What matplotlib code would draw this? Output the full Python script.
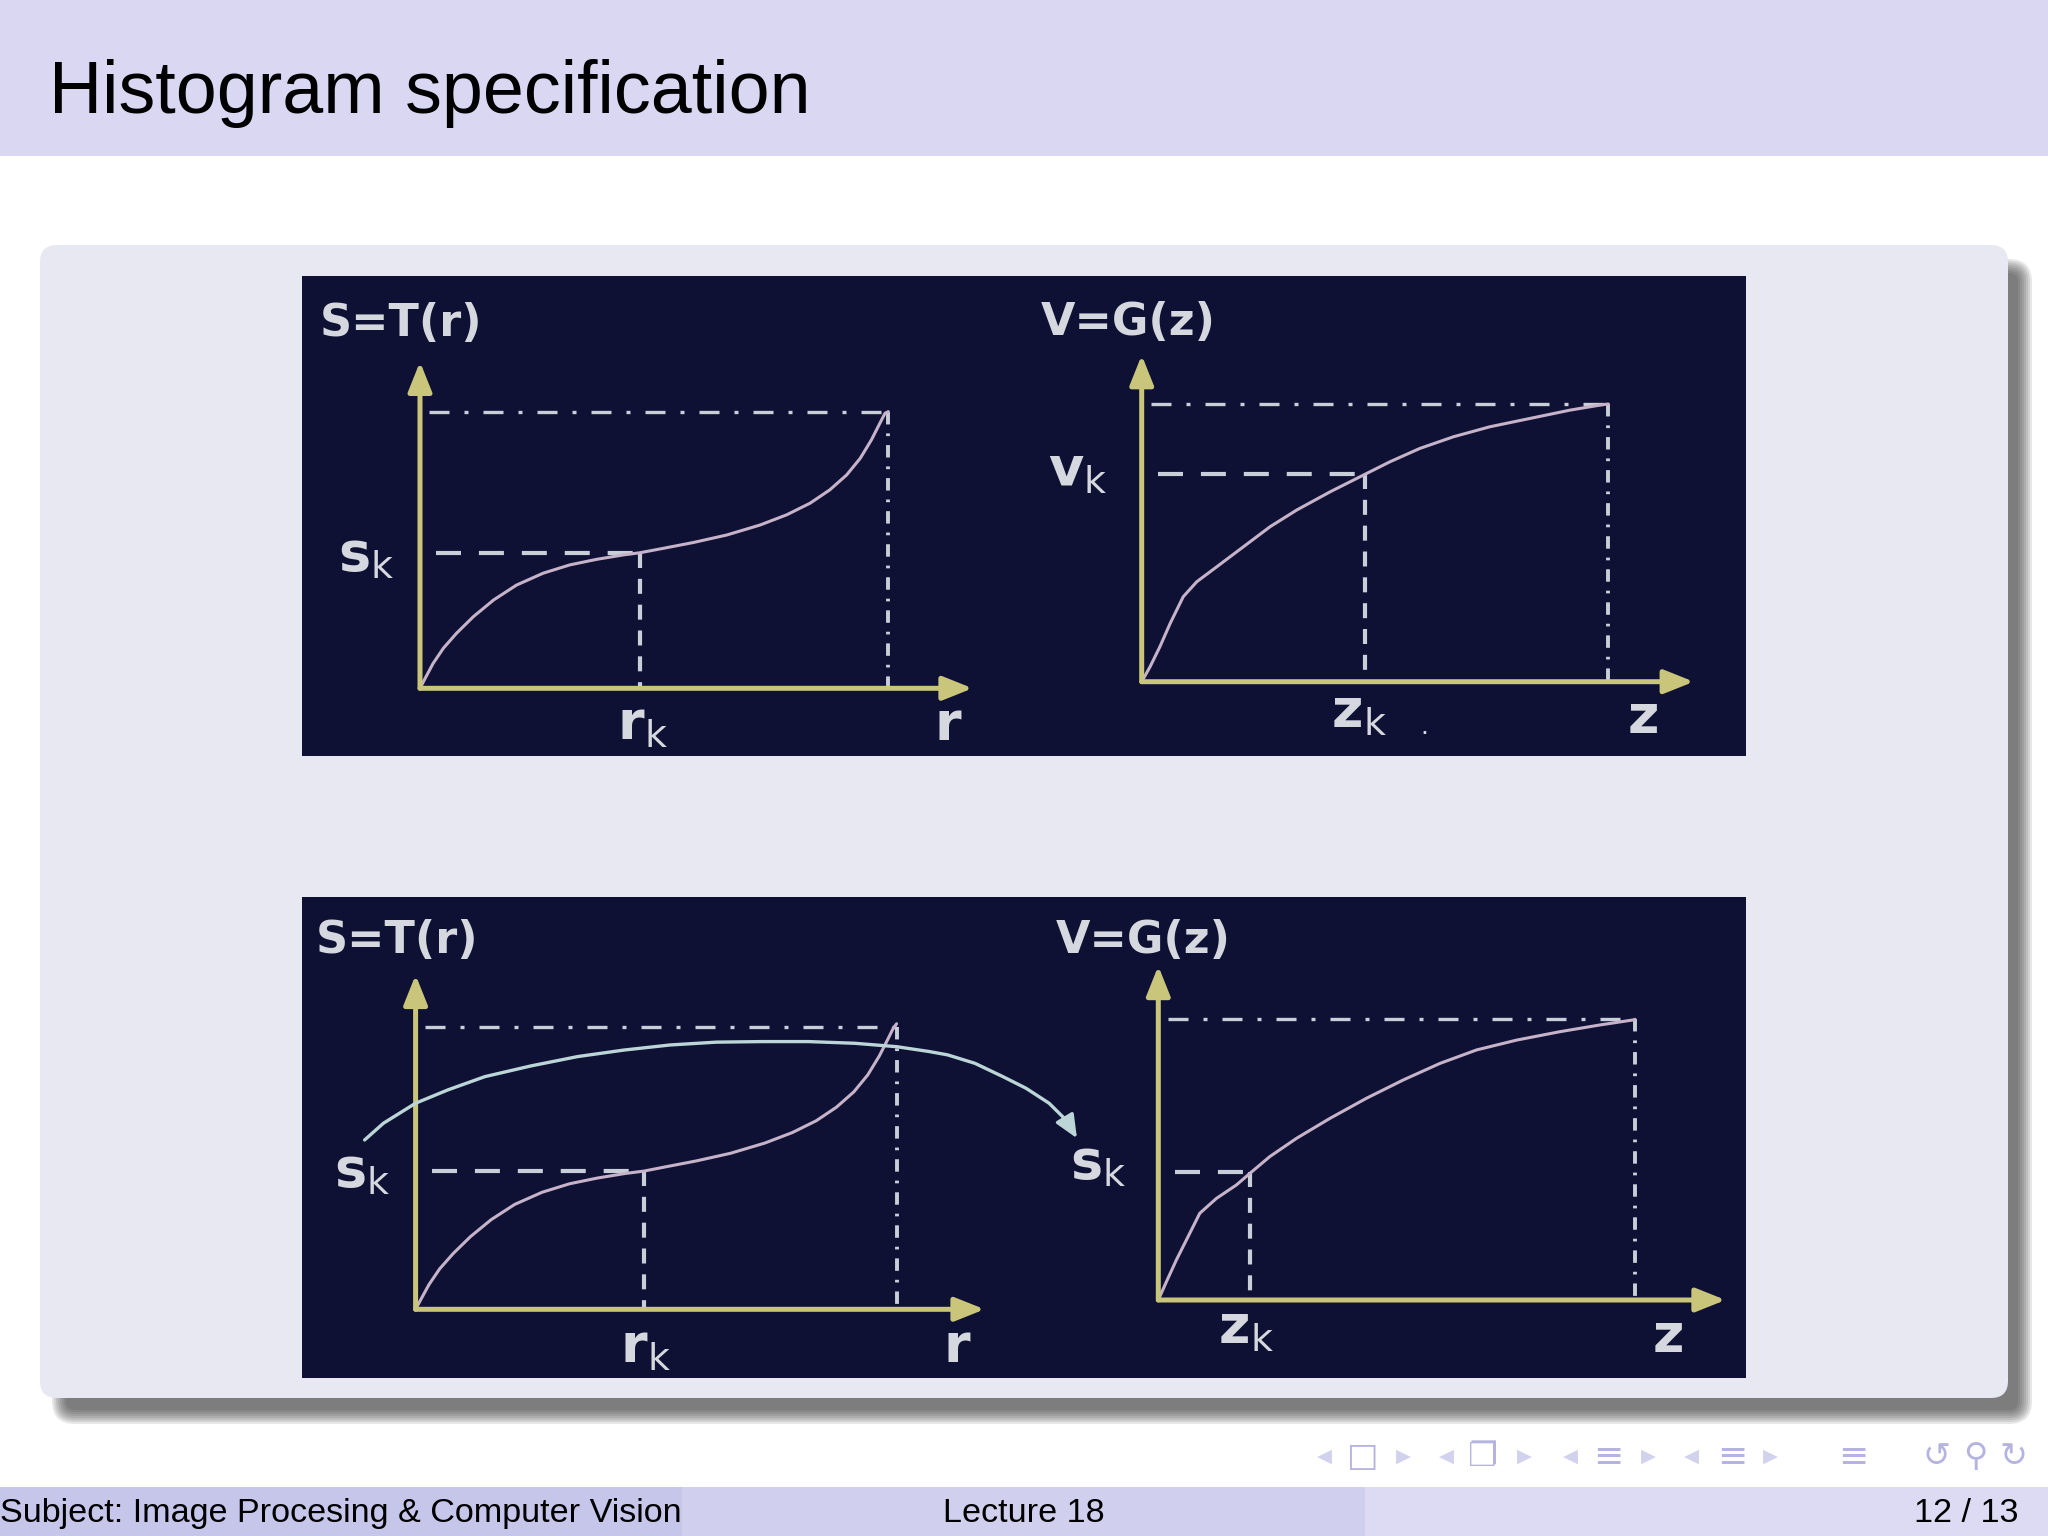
import matplotlib
matplotlib.use("Agg")
import matplotlib.pyplot as plt
from matplotlib.patches import Rectangle, FancyBboxPatch

plt.rcParams['mathtext.fontset'] = 'custom'
plt.rcParams['mathtext.bf'] = 'DejaVu Sans:bold'
plt.rcParams['mathtext.rm'] = 'DejaVu Sans'

W, H = 2048, 1536

# slide texts
title = "Histogram specification"
footer_left = "Subject: Image Procesing & Computer Vision"
footer_mid = "Lecture 18"
footer_right = "12 / 13"

# curves, in graph units (1.0 = the dotted limit lines)
top_r = [0, 0.011, 0.028, 0.05, 0.078, 0.114, 0.157, 0.206, 0.263, 0.32, 0.377, 0.434, 0.47,
         0.52, 0.584, 0.655, 0.726, 0.783, 0.833, 0.875, 0.911, 0.94, 0.964, 0.982, 0.993, 1.0]
top_s = [0, 0.036, 0.09, 0.145, 0.199, 0.259, 0.319, 0.373, 0.416, 0.446, 0.466, 0.482, 0.49,
         0.506, 0.527, 0.554, 0.59, 0.627, 0.669, 0.717, 0.771, 0.831, 0.898, 0.958, 0.994, 1.0]
top_z = [0, 0.018, 0.039, 0.061, 0.089, 0.118, 0.161, 0.218, 0.275, 0.332, 0.404, 0.475,
         0.532, 0.596, 0.668, 0.746, 0.832, 0.918, 0.989, 1.0]
top_v = [0, 0.054, 0.126, 0.21, 0.306, 0.36, 0.414, 0.486, 0.558, 0.618, 0.684, 0.744,
         0.792, 0.84, 0.882, 0.918, 0.948, 0.978, 0.998, 1.0]
bot_r = [0, 0.011, 0.028, 0.05, 0.078, 0.114, 0.157, 0.206, 0.263, 0.32, 0.377, 0.434, 0.475,
         0.52, 0.584, 0.655, 0.726, 0.783, 0.833, 0.875, 0.911, 0.94, 0.964, 0.982, 0.993, 1.0]
bot_s = [0, 0.035, 0.088, 0.143, 0.197, 0.257, 0.317, 0.371, 0.414, 0.444, 0.464, 0.48, 0.489,
         0.504, 0.525, 0.552, 0.588, 0.625, 0.667, 0.715, 0.769, 0.829, 0.896, 0.956, 0.994, 1.01]
bot_z = [0, 0.017, 0.038, 0.059, 0.087, 0.122, 0.164, 0.192, 0.234, 0.29, 0.36, 0.437,
         0.514, 0.591, 0.668, 0.752, 0.843, 0.927, 0.997, 1.0]
bot_v = [0, 0.065, 0.143, 0.214, 0.309, 0.362, 0.41, 0.451, 0.511, 0.576, 0.647, 0.719,
         0.784, 0.843, 0.891, 0.926, 0.956, 0.98, 0.998, 1.0]
# the mapping arrow in the lower left graph
map_x = [-0.106, -0.067, 0, 0.067, 0.144, 0.24, 0.337, 0.433, 0.529, 0.625, 0.721, 0.817,
         0.913, 1.0, 1.067, 1.106, 1.163, 1.221, 1.269, 1.317, 1.352, 1.375]
map_y = [0.599, 0.658, 0.729, 0.776, 0.823, 0.861, 0.894, 0.917, 0.935, 0.945, 0.947, 0.947,
         0.941, 0.929, 0.912, 0.9, 0.87, 0.823, 0.782, 0.729, 0.67, 0.605]

# marked points (x_k, y_k) per graph
top_left_k = (0.47, 0.488)
top_right_k = (0.479, 0.747)
bot_left_k = (0.475, 0.489)
bot_right_k = (0.192, 0.455)

NAVY = '#0e1134'
AXIS = '#c9c57a'
CURVE = '#c6b3c9'
DASH = '#c9cfd8'
ARROW = '#bcd6d8'
LABEL = '#d5d8de'

fig = plt.figure(figsize=(W / 100, H / 100), dpi=100)
fig.patch.set_facecolor('white')

bg = fig.add_axes([0, 0, 1, 1])
bg.set_xlim(0, W)
bg.set_ylim(H, 0)
bg.axis('off')

# header
bg.add_patch(Rectangle((0, 0), W, 156, color='#d9d7f1', lw=0))
bg.text(49, 113, title, fontsize=53, family='Liberation Sans', color='black', va='baseline')

# content box with a soft shadow offset to the lower right
for i in range(8):
    p = 17 + 2 * (i - 4)
    bg.add_patch(FancyBboxPatch((40 + 17 + 18, 245 + 17 + 20), 1968 - 34, 1153 - 34,
                                boxstyle='round,pad=%d,rounding_size=%d' % (p, max(p, 4)),
                                fc='#3a3a3a', ec='none', alpha=0.12))
bg.add_patch(FancyBboxPatch((40 + 17, 245 + 17), 1968 - 34, 1153 - 34,
                            boxstyle='round,pad=17,rounding_size=17',
                            fc='#e8e8f2', ec='none'))

# dark picture panels
bg.add_patch(Rectangle((302, 276), 1444, 480, color=NAVY, lw=0))
bg.add_patch(Rectangle((302, 897), 1444, 481, color=NAVY, lw=0))

# footer
bg.add_patch(Rectangle((0, 1487), 682, 49, color='#c6c5ea', lw=0))
bg.add_patch(Rectangle((682, 1487), 683, 49, color='#d0cfee', lw=0))
bg.add_patch(Rectangle((1365, 1487), 683, 49, color='#dcdbf3', lw=0))
bg.text(0, 1522, footer_left, fontsize=24.6, family='Liberation Sans', va='baseline')
bg.text(1024, 1522, footer_mid, fontsize=24.6, family='Liberation Sans', va='baseline', ha='center')
bg.text(2018, 1522, footer_right, fontsize=24.6, family='Liberation Sans', va='baseline', ha='right')

# beamer navigation symbols
nav = [(1324, '◀', 14), (1363, '□', 24), (1403, '▶', 14),
       (1446, '◀', 14), (1483, '❐', 24), (1524, '▶', 14),
       (1570, '◀', 14), (1608, '≡', 26), (1648, '▶', 14),
       (1691, '◀', 14), (1732, '≡', 26), (1770, '▶', 14),
       (1853, '≡', 26), (1937, '↺', 24), (1975, '⚲', 24), (2013, '↻', 24)]
for x, ch, fs in nav:
    col = '#d3d2ee' if ch in '◀▶' else '#b5b3df'
    bg.text(x, 1456, ch, fontsize=fs, color=col, ha='center', va='center', family='DejaVu Sans')


def graph(ox, oy, xu, yu, xmax, ymax, xs, ys, k, title_pos, title_txt,
          ylab_pos, ylab, xlab_pos, xlab, end_pos, end_lab):
    ax = fig.add_axes([ox / W, 1 - oy / H, xmax * xu / W, ymax * yu / H])
    ax.set_xlim(0, xmax)
    ax.set_ylim(0, ymax)
    ax.axis('off')
    ax.patch.set_alpha(0)
    hw = 'head_length=0.5,head_width=0.2'
    for tip in [(xmax, 0), (0, ymax)]:
        ax.annotate('', xy=tip, xytext=(0, 0), annotation_clip=False,
                    arrowprops=dict(arrowstyle='-|>,' + hw, color=AXIS, lw=3.6,
                                    mutation_scale=36, shrinkA=0, shrinkB=0))
    ax.plot([0.02, 1], [1, 1], color=DASH, lw=2.4, ls=(0, (6, 4.5, 1.2, 4.5)), clip_on=False)
    ax.plot([1, 1], [1, 0], color=DASH, lw=2.8, ls=(0, (3.2, 2.3, 0.7, 2.3)), clip_on=False)
    ax.plot([0.035, k[0]], [k[1], k[1]], color=DASH, lw=3.0, ls=(0, (6, 4.3)), clip_on=False)
    ax.plot([k[0], k[0]], [k[1], 0], color=DASH, lw=3.0, ls=(0, (3.6, 2.6)), clip_on=False)
    ax.plot(xs, ys, color=CURVE, lw=2.2, clip_on=False,
            solid_capstyle='round', solid_joinstyle='round')
    ax.text(title_pos[0], title_pos[1], title_txt, fontsize=32, fontweight='bold',
            family='DejaVu Sans', color=LABEL, va='center', ha='left')
    for (x, y), s in [(ylab_pos, ylab), (xlab_pos, xlab), (end_pos, end_lab)]:
        ax.text(x, y, s, fontsize=39, color=LABEL, va='baseline', ha='left')
    return ax


graph(420, 688.3, 468.3, 276.7, 1.18, 1.18, top_r, top_s, top_left_k,
      (-0.214, 1.318), 'S=T(r)', (-0.175, 0.426), r'$\mathbf{s}_{\mathrm{k}}$',
      (0.42, -0.186), r'$\mathbf{r}_{\mathrm{k}}$', (1.098, -0.186), r'$\mathbf{r}$')
tr = graph(1141.7, 681.7, 466.7, 277.7, 1.183, 1.176, top_z, top_v, top_right_k,
           (-0.216, 1.293), 'V=G(z)', (-0.2, 0.707), r'$\mathbf{v}_{\mathrm{k}}$',
           (0.405, -0.164), r'$\mathbf{z}_{\mathrm{k}}$', (1.04, -0.185), r'$\mathbf{z}$')
tr.text(0.598, -0.19, '.', fontsize=18, color=LABEL)
bl = graph(415.6, 1309.3, 481, 282.7, 1.183, 1.183, bot_r, bot_s, bot_left_k,
           (-0.207, 1.306), 'S=T(r)', (-0.17, 0.436), r'$\mathbf{s}_{\mathrm{k}}$',
           (0.424, -0.187), r'$\mathbf{r}_{\mathrm{k}}$', (1.096, -0.187), r'$\mathbf{r}$')
graph(1158.3, 1300, 476.7, 280.7, 1.19, 1.19, bot_z, bot_v, bot_right_k,
      (-0.215, 1.28), 'V=G(z)', (-0.185, 0.433), r'$\mathbf{s}_{\mathrm{k}}$',
      (0.126, -0.154), r'$\mathbf{z}_{\mathrm{k}}$', (1.035, -0.185), r'$\mathbf{z}$')

# mapping arrow from s_k of T to s_k of G
bl.plot(map_x[:-1], map_y[:-1], color=ARROW, lw=2.4, clip_on=False, zorder=5,
        solid_joinstyle='round', solid_capstyle='round')
bl.annotate('', xy=(map_x[-1], map_y[-1]), xytext=(map_x[-2], map_y[-2]),
            annotation_clip=False, zorder=5,
            arrowprops=dict(arrowstyle='-|>,head_length=0.5,head_width=0.22', color=ARROW,
                            lw=2.4, mutation_scale=28, shrinkA=0, shrinkB=0))

fig.savefig('out.png', dpi=100)
